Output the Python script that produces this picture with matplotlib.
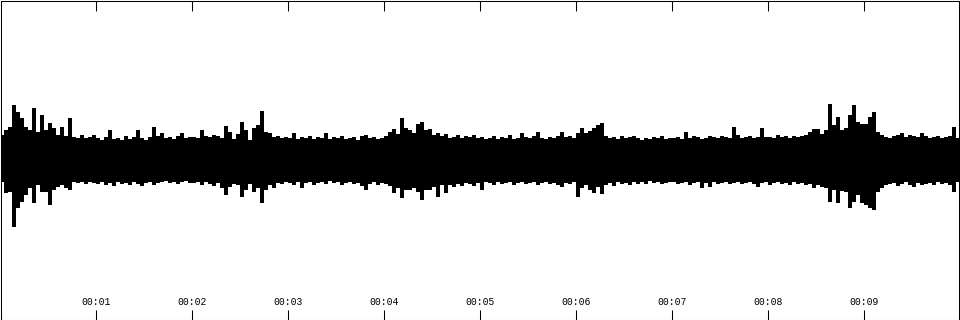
import numpy as np
import matplotlib
matplotlib.use("Agg")
import matplotlib.pyplot as plt

# waveform envelope, one value per 1/24 s (peak above / below zero, sample units)
upper = [
    25, 30, 33, 55, 48, 42, 33, 30, 52, 28, 45, 30, 37, 32, 25, 33, 24, 42, 23, 22, 25, 22, 23, 25,
    22, 20, 23, 30, 21, 22, 20, 24, 21, 23, 30, 22, 20, 23, 33, 24, 27, 22, 23, 21, 24, 27, 22, 23,
    23, 22, 30, 24, 23, 25, 24, 22, 34, 28, 21, 26, 38, 30, 20, 32, 35, 49, 28, 27, 23, 24, 22, 23,
    22, 27, 21, 23, 22, 24, 21, 23, 22, 27, 21, 23, 22, 24, 21, 22, 23, 20, 24, 25, 22, 23, 21, 22,
    24, 28, 31, 26, 42, 32, 30, 27, 36, 38, 30, 31, 25, 27, 24, 26, 22, 23, 25, 22, 24, 23, 25, 22,
    23, 21, 22, 24, 21, 23, 22, 25, 21, 22, 27, 23, 22, 24, 28, 22, 21, 23, 22, 24, 28, 23, 24, 22,
    27, 32, 27, 29, 32, 35, 37, 24, 22, 23, 21, 24, 22, 23, 24, 22, 20, 22, 21, 23, 22, 24, 21, 22,
    22, 23, 21, 28, 22, 24, 23, 21, 22, 24, 23, 22, 24, 23, 22, 33, 25, 22, 23, 24, 22, 23, 32, 23,
    23, 22, 25, 23, 24, 22, 24, 23, 24, 25, 28, 31, 31, 26, 30, 56, 35, 43, 30, 32, 45, 55, 38, 36,
    36, 43, 48, 28, 25, 23, 22, 24, 25, 27, 23, 25, 24, 23, 27, 24, 22, 23, 24, 22, 23, 24, 33, 22,
]
lower = [
    22, 33, 32, 67, 48, 42, 35, 28, 43, 25, 32, 32, 45, 30, 27, 25, 28, 30, 22, 23, 22, 24, 22, 23,
    24, 22, 25, 23, 26, 22, 24, 23, 25, 22, 24, 26, 23, 22, 25, 23, 22, 21, 23, 22, 24, 22, 21, 23,
    23, 22, 25, 22, 24, 26, 23, 28, 35, 27, 24, 25, 37, 30, 24, 32, 28, 43, 30, 25, 28, 23, 24, 22,
    23, 25, 22, 28, 23, 22, 25, 23, 22, 24, 21, 23, 22, 25, 23, 22, 24, 23, 26, 30, 24, 22, 25, 23,
    24, 26, 33, 28, 38, 30, 30, 28, 32, 40, 30, 30, 27, 37, 25, 33, 25, 27, 24, 26, 23, 24, 26, 23,
    30, 22, 23, 25, 22, 24, 23, 22, 25, 23, 22, 24, 23, 22, 25, 23, 22, 24, 23, 25, 27, 23, 24, 22,
    37, 28, 25, 30, 33, 27, 34, 25, 23, 26, 22, 24, 23, 25, 22, 24, 22, 24, 21, 23, 22, 24, 23, 22,
    22, 24, 23, 22, 25, 23, 22, 28, 23, 27, 22, 24, 23, 22, 24, 23, 22, 24, 23, 22, 24, 27, 23, 22,
    25, 23, 22, 24, 23, 25, 22, 24, 23, 25, 24, 28, 25, 27, 28, 42, 30, 43, 31, 32, 48, 42, 35, 43,
    45, 48, 50, 32, 28, 25, 24, 23, 26, 24, 22, 25, 27, 23, 25, 24, 23, 25, 22, 24, 23, 25, 32, 22,
]
tick_secs = [1, 2, 3, 4, 5, 6, 7, 8, 9]
tick_labels = ["00:01", "00:02", "00:03", "00:04", "00:05", "00:06", "00:07", "00:08", "00:09"]

duration = 10.0
n = len(upper)
step = duration / n
up = np.array(upper, dtype=float)
lo = np.array(lower, dtype=float)

# solid body = smallest peak among neighbouring slots, the peaks themselves drawn as thin strokes
def body(v):
    p = np.pad(v, 1, mode="edge")
    return np.minimum(np.minimum(p[:-2], p[1:-1]), p[2:])

edges = np.arange(n + 1) * step
ax_body_up = np.append(body(up), body(up)[-1])
ax_body_lo = np.append(body(lo), body(lo)[-1])
centers = (np.arange(n) + 0.5) * step

fig = plt.figure(figsize=(9.6, 3.2), dpi=100)
ax = fig.add_axes([0.5 / 960, 0.5 / 320, 959 / 960, 319 / 320])
ax.fill_between(edges, -ax_body_lo, ax_body_up, step="post", color="black",
                linewidth=0, antialiased=False)
ax.vlines(centers, -lo, up, color="black", linewidth=1.45, antialiased=False)

ax.set_xlim(0, duration)
ax.set_ylim(-160, 160)
ax.set_yticks([])
ax.set_xticks(tick_secs)
ax.set_xticklabels(tick_labels, family="Liberation Mono", fontsize=7)
ax.tick_params(axis="x", direction="in", length=7, width=0.75, top=True, bottom=True,
               pad=-15.9, colors="black")
for s in ax.spines.values():
    s.set_linewidth(0.75)
    s.set_color("black")

fig.savefig("out.png", dpi=100, facecolor="white")
